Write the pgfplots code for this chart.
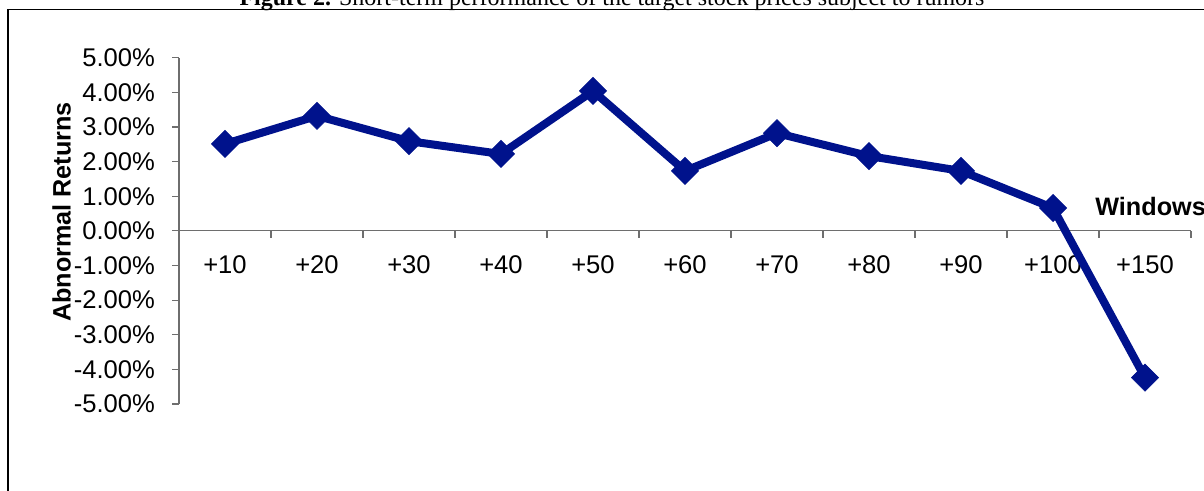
\documentclass[border=0pt]{standalone}
\usepackage{pgfplots}
\pgfplotsset{compat=1.18}
\usepackage{fontspec}
\setmainfont{Liberation Sans}
\newfontfamily\timesfont{Liberation Serif}
\definecolor{navy}{RGB}{0,18,140}
\definecolor{axgray}{RGB}{110,110,110}
\begin{document}
\begin{tikzpicture}
\useasboundingbox (0,0) rectangle (602pt,245.5pt);
\clip (0,0) rectangle (602pt,245.5pt);
\node[anchor=base, font=\timesfont\fontsize{12}{14}\selectfont, inner sep=0pt] at (306pt,242.5pt) {\textbf{Figure 2.} Short-term performance of the target stock prices subject to rumors};
\draw[line width=0.7pt] (4pt,-10pt) -- (4pt,240.85pt) -- (612pt,240.85pt);
\begin{axis}[
  at={(89.5pt,43.5pt)}, anchor=south west,
  scale only axis, width=506pt, height=173.15pt,
  xmin=-0.5, xmax=10.5, ymin=-5, ymax=5,
  axis x line=middle, axis y line=left,
  axis line style={-, draw=axgray, line width=0.6pt},
  xtick={0,1,2,3,4,5,6,7,8,9,10},
  xticklabels={+10,+20,+30,+40,+50,+60,+70,+80,+90,+100,+150},
  minor xtick={-0.5,0.5,1.5,2.5,3.5,4.5,5.5,6.5,7.5,8.5,9.5,10.5},
  major x tick style={draw=none},
  minor x tick style={draw=axgray, line width=0.6pt},
  ytick={-5,-4,-3,-2,-1,0,1,2,3,4,5},
  yticklabels={-5.00\%,-4.00\%,-3.00\%,-2.00\%,-1.00\%,0.00\%,1.00\%,2.00\%,3.00\%,4.00\%,5.00\%},
  y tick style={draw=axgray, line width=0.6pt},
  tick align=outside,
  major tick length=3.5pt, minor tick length=3.5pt,
  tick label style={font=\fontsize{12.8}{15}\selectfont},
  xticklabel style={anchor=center, yshift=-13.5pt},
  yticklabel style={anchor=east, xshift=-5pt},
  ylabel={Abnormal Returns},
  ylabel style={font=\bfseries\fontsize{12.6}{15}\selectfont, at={(axis description cs:-0.1159,0.5544)}, anchor=center, rotate=0},
  xlabel={Windows},
  xlabel style={font=\bfseries\fontsize{12.6}{15}\selectfont, at={(axis description cs:0.9051,0.5689)}, anchor=west, inner sep=0pt},
  clip=false,
]
\addplot[navy, line width=4pt, mark=square*, mark size=4.8pt, mark options={rotate=45, line width=0.3pt, fill=navy, draw=navy}]
coordinates {
(0,2.51) (1,3.32) (2,2.59) (3,2.22) (4,4.04) (5,1.73) (6,2.82) (7,2.16) (8,1.73) (9,0.66) (10,-4.24)
};
\end{axis}
\end{tikzpicture}
\end{document}
